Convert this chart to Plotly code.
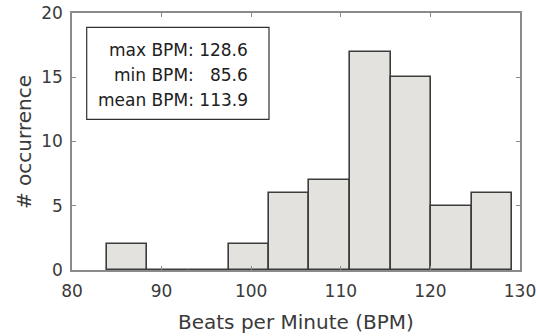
import plotly.graph_objects as go

bin_edges = [83.9, 88.4, 92.9, 97.5, 102.0, 106.5, 111.0, 115.6, 120.1, 124.6, 129.1]
counts = [2, 0, 0, 2, 6, 7, 17, 15, 5, 6]
stats_labels = ["max BPM: 128.6", "min BPM:\u00a0\u00a0\u00a085.6", "mean BPM: 113.9"]
x_ticks = [80, 90, 100, 110, 120, 130]
y_ticks = [0, 5, 10, 15, 20]

centers = [(a + b) / 2 for a, b in zip(bin_edges[:-1], bin_edges[1:])]
widths = [b - a for a, b in zip(bin_edges[:-1], bin_edges[1:])]

FONT = "DejaVu Sans, Arial, sans-serif"
TXT = "#3a3a3a"
AX = "#8a8a8a"

W, H = 537, 336
L, R, T, B = 72, 17, 13, 66
PW, PH = W - L - R, H - T - B

def px_x(p):
    return (p - L) / PW

def px_y(p):
    return (H - B - p) / PH

fig = go.Figure()
fig.add_trace(go.Bar(
    x=centers, y=counts, width=widths,
    marker=dict(color="#e3e2de", line=dict(color="#3c3c3c", width=1.6)),
    hoverinfo="skip", showlegend=False,
))

axis_common = dict(
    showline=True, linecolor=AX, linewidth=1.6, mirror="ticks",
    ticks="inside", ticklen=4, tickcolor=AX, tickwidth=1.2,
    showgrid=False, zeroline=False, automargin=False,
    tickfont=dict(family=FONT, size=17, color=TXT),
)

fig.update_layout(
    width=W, height=H,
    margin=dict(l=L, r=R, t=T, b=B),
    paper_bgcolor="white", plot_bgcolor="white",
    font=dict(family=FONT, color=TXT),
    bargap=0,
    xaxis=dict(range=[80, 130], tickvals=x_ticks, ticklabelstandoff=5, **axis_common),
    yaxis=dict(range=[0, 20], tickvals=y_ticks, ticklabelstandoff=4, **axis_common),
)

# axis titles
fig.add_annotation(x=px_x(296), y=px_y(322), xref="paper", yref="paper",
                   text="Beats per Minute (BPM)", showarrow=False,
                   xanchor="center", yanchor="middle",
                   font=dict(family=FONT, size=20, color=TXT))
fig.add_annotation(x=px_x(24), y=px_y(142), xref="paper", yref="paper",
                   text="# occurrence", showarrow=False, textangle=-90,
                   xanchor="center", yanchor="middle",
                   font=dict(family=FONT, size=20, color=TXT))

# stats box
fig.add_shape(type="rect", xref="paper", yref="paper",
              x0=px_x(86.7), x1=px_x(269), y0=px_y(119.3), y1=px_y(27.3),
              line=dict(color="#303030", width=1.2), fillcolor="white")
line_px = [49.5, 74.5, 99.5]
for lbl, yy in zip(stats_labels, line_px):
    fig.add_annotation(x=px_x(250), y=px_y(yy), xref="paper", yref="paper",
                       text=lbl, showarrow=False, xanchor="right", yanchor="middle",
                       font=dict(family=FONT, size=17, color="#202020"))

fig.write_html("out.html")
